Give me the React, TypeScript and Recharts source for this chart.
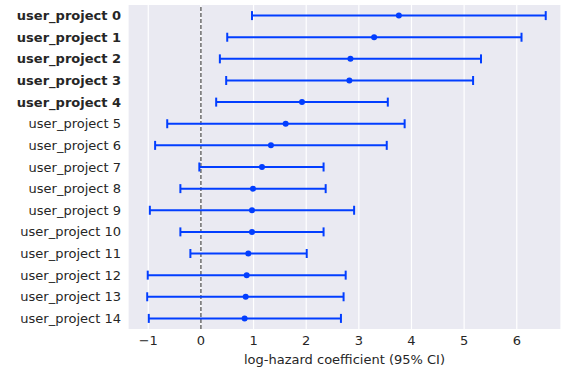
import {
  ComposedChart,
  Scatter,
  ErrorBar,
  XAxis,
  YAxis,
  CartesianGrid,
  ReferenceLine,
  Label,
} from "recharts";

const projects = [
  "user_project 0", "user_project 1", "user_project 2", "user_project 3", "user_project 4",
  "user_project 5", "user_project 6", "user_project 7", "user_project 8", "user_project 9",
  "user_project 10", "user_project 11", "user_project 12", "user_project 13", "user_project 14",
];
const coef = [3.76, 3.29, 2.84, 2.82, 1.92, 1.61, 1.33, 1.16, 0.99, 0.97, 0.97, 0.9, 0.87, 0.85, 0.83];
const lower = [0.97, 0.5, 0.36, 0.48, 0.29, -0.64, -0.87, -0.03, -0.39, -0.97, -0.39, -0.2, -1.01, -1.02, -0.99];
const upper = [6.55, 6.09, 5.32, 5.17, 3.55, 3.87, 3.53, 2.33, 2.37, 2.91, 2.33, 2.01, 2.75, 2.71, 2.66];
const boldCount = 5;
const xTicks = [-1, 0, 1, 2, 3, 4, 5, 6];

const data = projects.map((name, i) => ({
  name,
  coef: coef[i],
  err: [coef[i] - lower[i], upper[i] - coef[i]],
}));

const FONT = "'DejaVu Sans', sans-serif";
const TEXT = "#262626";
const BLUE = "#023eff";

function ProjectTick(props: any) {
  const { y, payload } = props;
  const bold = payload.index < boldCount;
  return (
    <text
      x={121}
      y={y}
      dy={4.5}
      textAnchor="end"
      fontFamily={FONT}
      fontSize={13}
      fontWeight={bold ? "bold" : "normal"}
      fill={TEXT}
    >
      {payload.value}
    </text>
  );
}

export default function App() {
  return (
    <div style={{ position: "absolute", left: 0, top: 0 }}>
      <ComposedChart
        width={561}
        height={369}
        data={data}
        layout="vertical"
        margin={{ top: 5, right: 0, left: 0, bottom: 0 }}
      >
        <CartesianGrid
          fill="#eaeaf2"
          stroke="#ffffff"
          strokeWidth={1.2}
          horizontal={false}
        />
        <XAxis
          type="number"
          domain={[-1.385, 6.84]}
          ticks={xTicks}
          height={40}
          axisLine={false}
          tickLine={false}
          tickFormatter={(v: number) => String(v).replace("-", "\u2212")}
          tick={{ fontFamily: FONT, fontSize: 13, fill: TEXT }}
          tickMargin={1}
          allowDataOverflow
        >
          <Label
            value="log-hazard coefficient (95% CI)"
            position="insideBottom"
            offset={5}
            style={{ fontFamily: FONT, fontSize: 13, fill: TEXT }}
          />
        </XAxis>
        <YAxis
          type="category"
          dataKey="name"
          width={128}
          axisLine={false}
          tickLine={false}
          interval={0}
          padding={{ top: 10.6, bottom: 10.6 }}
          tick={<ProjectTick />}
        />
        <ReferenceLine x={0} stroke="#6b6b6b" strokeWidth={1.5} strokeDasharray="4 2" />
        <Scatter
          dataKey="coef"
          isAnimationActive={false}
          shape={(p: any) => <circle cx={p.cx} cy={p.cy} r={3} fill={BLUE} />}
        >
          <ErrorBar
            dataKey="err"
            direction="x"
            width={4.5}
            stroke={BLUE}
            strokeWidth={2}
            isAnimationActive={false}
          />
        </Scatter>
      </ComposedChart>
    </div>
  );
}
